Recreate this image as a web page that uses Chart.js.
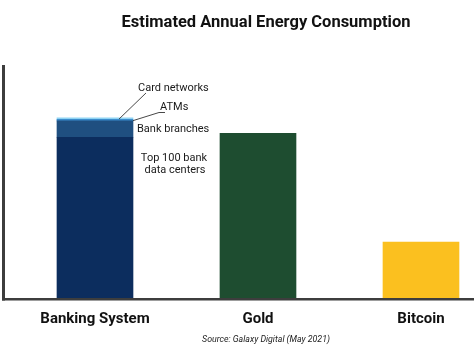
<!DOCTYPE html>
<html><head><meta charset="utf-8">
<script src="https://cdn.jsdelivr.net/npm/chart.js@4"></script>
<style>html,body{margin:0;padding:0;background:#fff}canvas{display:block}</style>
</head><body>
<canvas id="c" width="474" height="355"></canvas>
<script>
const categories = ['Banking System', 'Gold', 'Bitcoin'];
const dataCenters  = [207, null, null];
const bankBranches = [21, null, null];
const atms         = [2, null, null];
const cardNetworks = [2, null, null];
const gold         = [null, 212, null];
const bitcoin      = [null, null, 72];
const titleText = 'Estimated Annual Energy Consumption';
const sourceText = 'Source: Galaxy Digital (May 2021)';

const pts = arr => arr.map((v, i) => ({x: i, y: v})).filter(p => p.y !== null);
const FONT = 'Roboto, "Liberation Sans", Arial, sans-serif';

const overlay = {
  id: 'overlay',
  afterDraw(chart) {
    const ctx = chart.ctx, a = chart.chartArea, xs = chart.scales.x;
    ctx.save();
    // axes
    ctx.strokeStyle = '#3d3d3d';
    ctx.lineWidth = 3;
    ctx.beginPath(); ctx.moveTo(3.5, a.top); ctx.lineTo(3.5, a.bottom + 2.5); ctx.stroke();
    ctx.lineWidth = 2.5;
    ctx.beginPath(); ctx.moveTo(2, a.bottom + 1.2); ctx.lineTo(a.right, a.bottom + 1.2); ctx.stroke();
    // title
    ctx.fillStyle = '#111';
    ctx.textAlign = 'center'; ctx.textBaseline = 'middle';
    ctx.font = 'bold 16.5px ' + FONT;
    ctx.fillText(titleText, 266, 23);
    // category labels
    ctx.font = 'bold 15px ' + FONT;
    categories.forEach((c, i) => ctx.fillText(c, xs.getPixelForValue(i), 319));
    // source
    ctx.font = 'italic 8.8px ' + FONT;
    ctx.fillStyle = '#222';
    ctx.fillText(sourceText, 266, 340);
    // annotations
    const m = i => chart.getDatasetMeta(i).data[0];
    const dc = m(0), cn = m(3), at = m(2);
    const right = dc.x + dc.width / 2;
    ctx.fillStyle = '#1a1a1a';
    ctx.font = '11px ' + FONT;
    ctx.textAlign = 'left';
    ctx.fillText('Card networks', right + 5, 88);
    ctx.fillText('ATMs', right + 27, 107.5);
    ctx.fillText('Bank branches', right + 4, 129);
    ctx.textAlign = 'center';
    ctx.fillText('Top 100 bank', right + 41, 158.5);
    ctx.fillText('data centers', right + 42, 170.5);
    // leader lines
    ctx.strokeStyle = '#333';
    ctx.lineWidth = 0.9;
    ctx.beginPath();
    ctx.moveTo(right + 13, 93); ctx.lineTo(right - 14, (cn.y + cn.base) / 2 + 0.5);
    ctx.moveTo(right + 32, 112.5); ctx.lineTo(right + 26, 112.5); ctx.lineTo(right, (at.y + at.base) / 2 + 0.5);
    ctx.stroke();
    ctx.restore();
  }
};

const ds = (label, arr, color) => ({label, data: pts(arr), backgroundColor: color,
  borderWidth: 0, barThickness: 76, borderSkipped: false});

new Chart(document.getElementById('c'), {
  type: 'bar',
  data: {datasets: [
    ds('Top 100 bank data centers', dataCenters, '#0c2d5e'),
    ds('Bank branches', bankBranches, '#1f4f80'),
    ds('ATMs', atms, '#3b8ccc'),
    ds('Card networks', cardNetworks, '#8fd3f3'),
    ds('Gold', gold, '#1e4d30'),
    ds('Bitcoin', bitcoin, '#fbc01f')
  ]},
  options: {
    responsive: false, animation: false,
    layout: {padding: {top: 65, bottom: 57, left: 5, right: 0}},
    plugins: {legend: {display: false}, tooltip: {enabled: false}, title: {display: false}},
    scales: {
      x: {type: 'linear', stacked: true, display: false, offset: false, min: -0.5521, max: 2.3252},
      y: {stacked: true, display: false, min: 0, max: 300}
    }
  },
  plugins: [overlay]
});
</script>
</body></html>
